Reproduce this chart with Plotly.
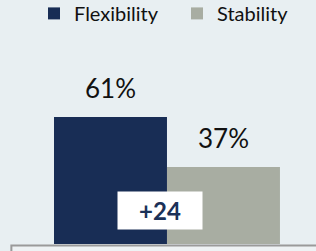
import plotly.graph_objects as go

series = ["Flexibility", "Stability"]
values = [61, 37]
labels = ["61%", "37%"]
colors = ["#182D55", "#A8ADA2"]
diff_label = "+24"

BG = "#E8EFF2"
FONT = "Lato"

fig = go.Figure()
for i, (s, v, c) in enumerate(zip(series, values, colors)):
    fig.add_trace(go.Bar(x=[i], y=[v], name=s, marker=dict(color=c, line=dict(width=0)),
                         width=1, hoverinfo="skip"))

for i, (v, t) in enumerate(zip(values, labels)):
    fig.add_annotation(x=i, y=v, text=t, showarrow=False, yanchor="bottom", yshift=11,
                       font=dict(family=FONT, size=26, color="#111111"))

fig.add_annotation(x=0.438, y=16.1, text="<b>" + diff_label + "</b>", showarrow=False,
                   bgcolor="white", width=80, height=33, borderpad=2,
                   font=dict(family=FONT, size=24, color="#1B3158"))

# bottom framed box
fig.add_shape(type="rect", xref="paper", yref="paper", x0=0.036, x1=1.05, y0=-0.1, y1=-0.006,
              line=dict(color="#9A9A9A", width=2), fillcolor="#EEF2F4", layer="above")

fig.update_layout(
    width=316, height=251,
    margin=dict(l=0, r=0, t=0, b=7, autoexpand=False),
    paper_bgcolor=BG, plot_bgcolor=BG,
    barmode="overlay",
    showlegend=True,
    legend=dict(orientation="h", x=34 / 316, xanchor="left", y=1.025, yanchor="top",
                font=dict(family=FONT, size=20, color="#111111"), bgcolor="rgba(0,0,0,0)",
                traceorder="normal", itemwidth=30, entrywidth=98, entrywidthmode="pixels"),
    xaxis=dict(range=[-0.978, 1.819], visible=False, fixedrange=True),
    yaxis=dict(range=[0, 117.2], visible=False, fixedrange=True),
)

fig.write_html("out.html", config={"displayModeBar": False},
               post_script="document.body.style.margin='0';document.body.style.overflow='hidden';")
